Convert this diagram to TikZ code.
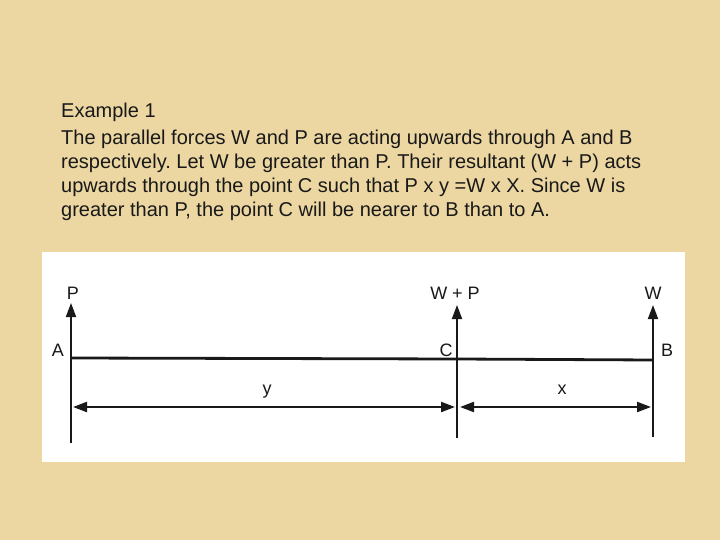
\documentclass[tikz,border=0pt]{standalone}
\usepackage{fontspec}
\setmainfont{Liberation Sans}
\usetikzlibrary{arrows.meta}
\definecolor{parchment}{RGB}{236,215,162}
\definecolor{inkgray}{RGB}{25,25,25}
\frenchspacing

\begin{document}
\begin{tikzpicture}[x=1pt,y=-1pt,
    force/.style={line width=1.8pt,inkgray,-{Triangle[length=14pt,width=10pt]}},
    dimline/.style={line width=2.2pt,inkgray,{Triangle[length=14pt,width=10pt]}-{Triangle[length=14pt,width=10pt]}},
    lbl/.style={font=\fontsize{18}{18}\selectfont,text=inkgray,inner sep=0pt}]
    \fill[parchment] (0,0) rectangle (720,540);
    \useasboundingbox (0,0) rectangle (720,540);
    \node[anchor=north west,align=left,inner sep=0pt,font=\fontsize{20}{24}\selectfont,text=inkgray] (body) at (61,103)
        {Example 1\\[3pt]
         The parallel forces W and P are acting upwards through A and B\\
         respectively. Let W be greater than P. Their resultant (W + P) acts\\
         upwards through the point C such that P x y =W x X. Since W is\\
         greater than P, the point C will be nearer to B than to A.};
    \fill[white] (42,252) rectangle (685,462);
    % points on the bar
    \coordinate (A) at (71,358);
    \coordinate (C) at (457,359);
    \coordinate (B) at (653,360);
    \coordinate (Abot) at (71,443);
    \coordinate (Cbot) at (457,438);
    \coordinate (Bbot) at (653,437);
    \coordinate (Atop) at (71,303);
    \coordinate (Ctop) at (457,305);
    \coordinate (Btop) at (653,305);
    \draw[line width=2.8pt,inkgray] (A) -- (C) -- (B);
    \draw[force] (Abot) -- (Atop);
    \draw[force] (Cbot) -- (Ctop);
    \draw[force] (Bbot) -- (Btop);
    % distances
    \coordinate (yL) at (73,407);
    \coordinate (yR) at (455,407);
    \coordinate (xL) at (460,407);
    \coordinate (xR) at (651,407);
    \draw[dimline] (yL) -- (yR);
    \draw[dimline] (xL) -- (xR);
    \node[lbl] (P) at (73,293) {P};
    \node[lbl] (WP) at (455,293) {W\hspace{5pt}+\hspace{5pt}P};
    \node[lbl] (W) at (653,293) {W};
    \node[lbl] (labA) at (58,350) {A};
    \node[lbl] (labC) at (446,350) {C};
    \node[lbl] (labB) at (667,350) {B};
    \node[lbl] (laby) at (267,392) {y};
    \node[lbl] (labx) at (562,390) {x};
\end{tikzpicture}
\end{document}
